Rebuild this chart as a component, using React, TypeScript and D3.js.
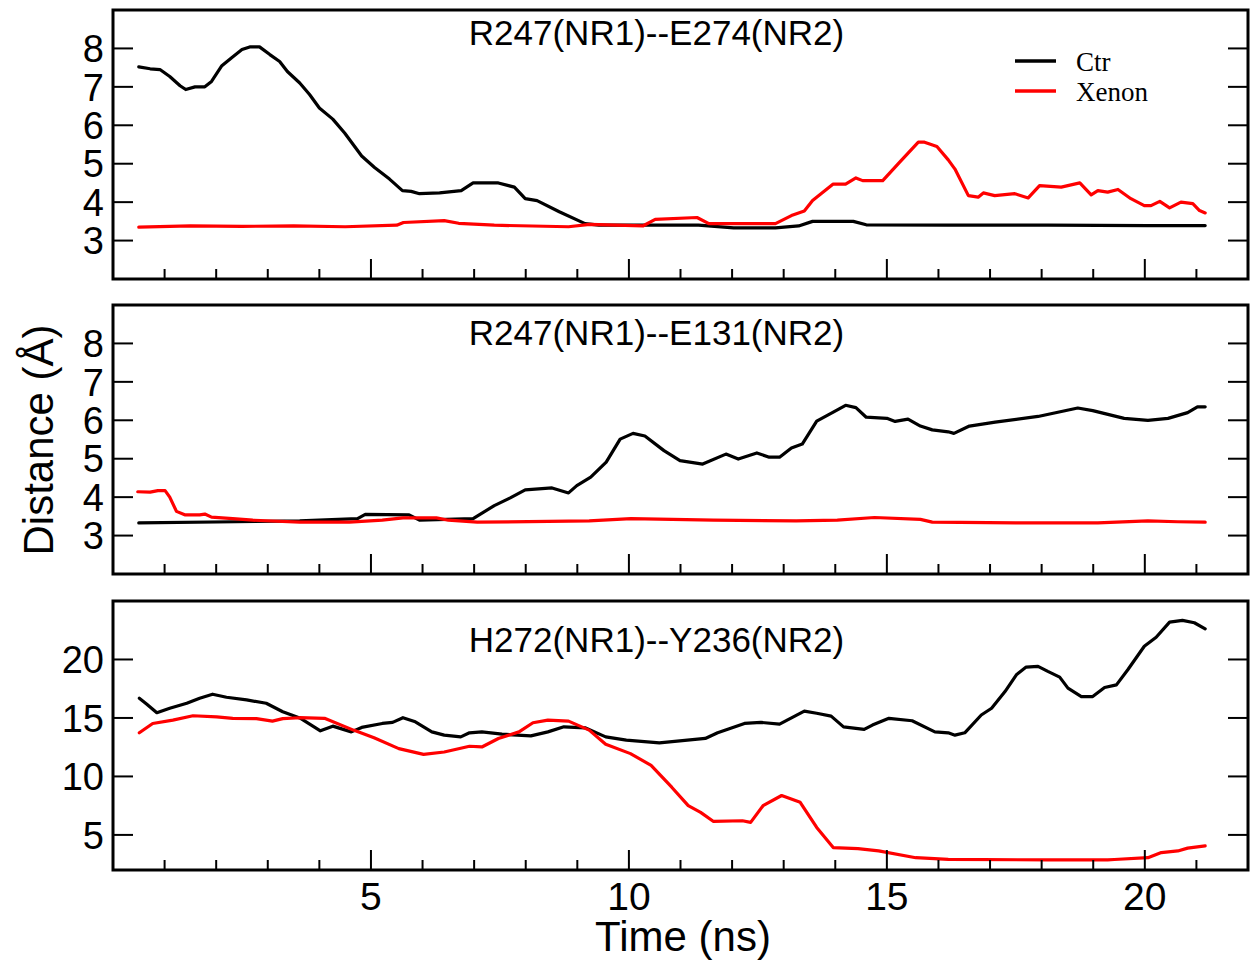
import React from "react";
import * as d3 from "d3";

type Pt = [number, number];

// panel 1: R247(NR1)--E274(NR2)
const ctr1: Pt[] = [
  [0.5, 7.52], [0.72, 7.47], [0.91, 7.45], [1.1, 7.27], [1.3, 7.03], [1.41, 6.93], [1.59, 7.0],
  [1.78, 7.0], [1.91, 7.14], [2.11, 7.55], [2.3, 7.76], [2.5, 7.97], [2.65, 8.04], [2.84, 8.04],
  [3.04, 7.84], [3.23, 7.66], [3.38, 7.4], [3.62, 7.1], [3.81, 6.8], [4.0, 6.45], [4.26, 6.16],
  [4.49, 5.8], [4.82, 5.2], [5.07, 4.9], [5.36, 4.6], [5.61, 4.3], [5.78, 4.28], [5.94, 4.22],
  [6.33, 4.24], [6.75, 4.3], [6.98, 4.5], [7.47, 4.5], [7.78, 4.39], [7.99, 4.09], [8.22, 4.04],
  [8.65, 3.75], [9.15, 3.44], [9.42, 3.4], [10.39, 3.4], [11.35, 3.4], [12.03, 3.33], [12.84, 3.33],
  [13.29, 3.38], [13.56, 3.5], [14.35, 3.5], [14.6, 3.41], [16.19, 3.4], [18.12, 3.4], [20.06, 3.39],
  [21.17, 3.39],
];
const xen1: Pt[] = [
  [0.5, 3.35], [1.5, 3.38], [2.5, 3.37], [3.5, 3.38], [4.5, 3.36], [5.5, 3.4], [5.63, 3.47],
  [6.42, 3.52], [6.7, 3.45], [7.39, 3.4], [8.83, 3.36], [9.24, 3.42], [10.27, 3.38], [10.51, 3.55],
  [11.32, 3.6], [11.55, 3.44], [12.84, 3.44], [13.15, 3.65], [13.4, 3.77], [13.56, 4.04], [13.96, 4.47],
  [14.2, 4.47], [14.4, 4.63], [14.53, 4.56], [14.92, 4.56], [15.24, 5.03], [15.61, 5.56], [15.73, 5.56],
  [15.97, 5.45], [16.19, 5.1], [16.32, 4.86], [16.58, 4.17], [16.77, 4.13], [16.87, 4.24], [17.09, 4.17],
  [17.48, 4.22], [17.74, 4.11], [17.96, 4.43], [18.38, 4.39], [18.74, 4.5], [18.96, 4.19], [19.09, 4.3],
  [19.28, 4.26], [19.48, 4.33], [19.73, 4.09], [19.99, 3.91], [20.12, 3.91], [20.29, 4.02], [20.48, 3.85],
  [20.7, 4.0], [20.93, 3.96], [21.06, 3.78], [21.17, 3.72],
];

// panel 2: R247(NR1)--E131(NR2)
const ctr2: Pt[] = [
  [0.5, 3.33], [3.62, 3.38], [4.74, 3.44], [4.89, 3.55], [5.74, 3.54], [5.94, 3.4], [6.98, 3.44],
  [7.39, 3.78], [7.7, 3.98], [7.99, 4.19], [8.51, 4.24], [8.83, 4.11], [8.99, 4.3], [9.26, 4.52],
  [9.56, 4.91], [9.83, 5.51], [10.08, 5.66], [10.31, 5.59], [10.68, 5.21], [10.99, 4.95], [11.43, 4.86],
  [11.88, 5.12], [12.12, 4.99], [12.48, 5.15], [12.72, 5.04], [12.92, 5.04], [13.15, 5.28], [13.36, 5.38],
  [13.64, 5.98], [13.97, 6.22], [14.2, 6.39], [14.4, 6.33], [14.6, 6.08], [15.0, 6.05], [15.16, 5.97],
  [15.41, 6.03], [15.65, 5.85], [15.88, 5.75], [16.19, 5.7], [16.3, 5.66], [16.6, 5.85], [17.1, 5.95],
  [17.93, 6.1], [18.7, 6.32], [18.99, 6.25], [19.6, 6.05], [20.06, 6.0], [20.45, 6.05], [20.83, 6.2],
  [21.02, 6.35], [21.17, 6.35],
];
const xen2: Pt[] = [
  [0.48, 4.14], [0.72, 4.13], [0.87, 4.17], [1.01, 4.17], [1.1, 4.0], [1.23, 3.63], [1.39, 3.54],
  [1.68, 3.54], [1.78, 3.56], [1.91, 3.48], [2.32, 3.44], [2.71, 3.4], [3.62, 3.35], [4.58, 3.35],
  [5.22, 3.4], [5.62, 3.46], [6.27, 3.46], [6.5, 3.4], [7.06, 3.35], [9.23, 3.38], [10.04, 3.44],
  [11.64, 3.4], [13.24, 3.38], [14.04, 3.4], [14.76, 3.47], [15.65, 3.42], [15.88, 3.35], [17.5, 3.33],
  [19.09, 3.33], [20.06, 3.38], [20.64, 3.36], [21.17, 3.35],
];

// panel 3: H272(NR1)--Y236(NR2)
const ctr3: Pt[] = [
  [0.51, 16.69], [0.65, 16.2], [0.85, 15.45], [1.1, 15.83], [1.43, 16.26], [1.68, 16.69], [1.93, 17.03],
  [2.2, 16.77], [2.59, 16.54], [2.97, 16.26], [3.29, 15.53], [3.62, 15.0], [4.02, 13.9], [4.26, 14.3],
  [4.62, 13.81], [4.82, 14.19], [5.22, 14.53], [5.42, 14.62], [5.62, 15.02], [5.86, 14.67], [6.18, 13.81],
  [6.42, 13.53], [6.74, 13.38], [6.91, 13.73], [7.15, 13.81], [7.54, 13.61], [8.1, 13.47], [8.43, 13.81],
  [8.74, 14.24], [9.15, 14.16], [9.55, 13.38], [9.95, 13.1], [10.59, 12.87], [11.48, 13.25], [11.72, 13.73],
  [12.24, 14.53], [12.56, 14.62], [12.92, 14.47], [13.4, 15.59], [13.64, 15.4], [13.92, 15.16],
  [14.16, 14.24], [14.56, 14.02], [14.72, 14.39], [15.04, 14.97], [15.49, 14.76], [15.93, 13.81],
  [16.19, 13.73], [16.32, 13.53], [16.51, 13.73], [16.83, 15.25], [17.03, 15.83], [17.29, 17.26],
  [17.51, 18.69], [17.7, 19.35], [17.93, 19.41], [18.12, 18.98], [18.35, 18.49], [18.51, 17.55],
  [18.77, 16.83], [18.99, 16.83], [19.22, 17.6], [19.45, 17.83], [19.67, 19.12], [19.99, 21.13],
  [20.22, 21.9], [20.48, 23.19], [20.73, 23.34], [20.96, 23.14], [21.17, 22.62],
];
const xen3: Pt[] = [
  [0.51, 13.73], [0.77, 14.53], [1.16, 14.82], [1.55, 15.19], [2.01, 15.1], [2.32, 14.97], [2.78, 14.94],
  [3.09, 14.73], [3.29, 14.94], [3.62, 15.02], [4.1, 14.97], [4.66, 13.96], [5.06, 13.3], [5.54, 12.38],
  [6.02, 11.89], [6.42, 12.09], [6.91, 12.58], [7.15, 12.52], [7.47, 13.24], [7.87, 13.81], [8.14, 14.59],
  [8.43, 14.82], [8.83, 14.73], [9.23, 13.96], [9.55, 12.75], [10.03, 11.95], [10.43, 10.95],
  [10.83, 9.08], [11.15, 7.5], [11.39, 6.93], [11.64, 6.15], [12.2, 6.21], [12.36, 6.07], [12.6, 7.5],
  [12.96, 8.37], [13.32, 7.79], [13.64, 5.64], [13.96, 3.92], [14.44, 3.83], [14.84, 3.63],
  [15.56, 3.05], [16.19, 2.91], [18.12, 2.86], [19.28, 2.86], [19.41, 2.9], [20.06, 3.05],
  [20.32, 3.49], [20.64, 3.63], [20.83, 3.87], [21.17, 4.06],
];

const titles = ["R247(NR1)--E274(NR2)", "R247(NR1)--E131(NR2)", "H272(NR1)--Y236(NR2)"];
const seriesNames = ["Ctr", "Xenon"];
const seriesColors = ["#000000", "#ff0000"];
const xMajorTicks = [5, 10, 15, 20];
const smallTicks = [3, 4, 5, 6, 7, 8];
const bigTicks = [5, 10, 15, 20];

const W = 1250;
const H = 963;
const left = 113;
const right = 1248;
const panelTops = [10, 305, 601];
const panelH = 269;
const titleBase = [45, 345, 652];
const sans = "'Liberation Sans', Arial, Helvetica, sans-serif";

const panels = [
  { domain: [2, 9], ticks: smallTicks, data: [ctr1, xen1] },
  { domain: [2, 9], ticks: smallTicks, data: [ctr2, xen2] },
  { domain: [2, 25], ticks: bigTicks, data: [ctr3, xen3] },
];

const x = d3.scaleLinear().domain([0, 22]).range([left, right]);
const minorTicks = d3.range(1, 22).filter((t) => t % 5 !== 0);

export default function App() {
  return (
    <svg
      width={W}
      height={H}
      style={{ position: "absolute", left: 0, top: 0, background: "#fff" }}
      fontFamily={sans}
    >
      {panels.map((p, i) => {
        const top = panelTops[i];
        const y = d3.scaleLinear().domain(p.domain).range([top + panelH, top]);
        const line = d3
          .line<Pt>()
          .x((d) => x(d[0]))
          .y((d) => y(d[1]));
        const bottom = top + panelH;
        return (
          <g key={i}>
            {p.data.map((s, j) => (
              <path
                key={j}
                d={line(s) || ""}
                fill="none"
                stroke={seriesColors[j]}
                strokeWidth={3.2}
                strokeLinejoin="round"
                strokeLinecap="round"
              />
            ))}
            {minorTicks.map((t) => (
              <line key={"m" + t} x1={x(t)} x2={x(t)} y1={bottom} y2={bottom - 10} stroke="#000" strokeWidth={2} />
            ))}
            {xMajorTicks.map((t) => (
              <line key={"M" + t} x1={x(t)} x2={x(t)} y1={bottom} y2={bottom - 20} stroke="#000" strokeWidth={2} />
            ))}
            {p.ticks.map((t) => (
              <g key={"y" + t}>
                <line x1={left} x2={left + 20} y1={y(t)} y2={y(t)} stroke="#000" strokeWidth={2} />
                <line x1={right - 20} x2={right} y1={y(t)} y2={y(t)} stroke="#000" strokeWidth={2} />
                <text x={104} y={y(t)} dy="0.36em" textAnchor="end" fontSize={38}>
                  {t}
                </text>
              </g>
            ))}
            <rect x={left} y={top} width={right - left} height={panelH} fill="none" stroke="#000" strokeWidth={3} />
            <text x={656.5} y={titleBase[i]} textAnchor="middle" fontSize={35}>
              {titles[i]}
            </text>
          </g>
        );
      })}
      {xMajorTicks.map((t) => (
        <text key={t} x={x(t)} y={910} textAnchor="middle" fontSize={39}>
          {t}
        </text>
      ))}
      <text x={683} y={951} textAnchor="middle" fontSize={42}>
        Time (ns)
      </text>
      <text transform="translate(53,440) rotate(-90)" textAnchor="middle" fontSize={42}>
        Distance (Å)
      </text>
      {seriesNames.map((n, j) => (
        <g key={n}>
          <line x1={1015} x2={1056} y1={61 + j * 30} y2={61 + j * 30} stroke={seriesColors[j]} strokeWidth={3.5} />
          <text x={1076} y={71 + j * 30} fontSize={27} fontFamily="'Liberation Serif', 'Times New Roman', serif">
            {n}
          </text>
        </g>
      ))}
    </svg>
  );
}
